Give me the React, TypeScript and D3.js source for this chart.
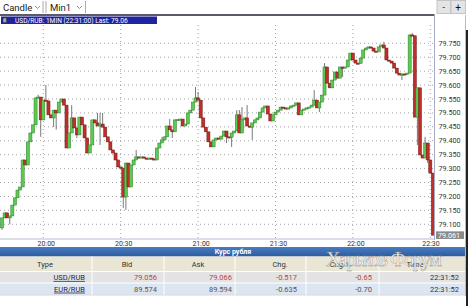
import React from "react";
import * as d3 from "d3";

// ---- DATA ----
const symbol = "USD/RUB";
const titleText = "USD/RUB: 1MIN (22:31:00) Last: 79.06";
const lastPrice = 79.061;
const startMinute = "19:44"; // first candle
const firstOpen = 79.087;
const closes = [
  79.123, 79.141, 79.123, 79.13, 79.169, 79.195, 79.223, 79.234, 79.331, 79.313,
  79.396, 79.428, 79.457, 79.554, 79.557, 79.475, 79.546, 79.543, 79.493, 79.482,
  79.51, 79.5, 79.539, 79.55, 79.528, 79.374, 79.428, 79.482, 79.446, 79.421,
  79.485, 79.457, 79.41, 79.356, 79.385, 79.475, 79.464, 79.453, 79.46, 79.449,
  79.414, 79.396, 79.367, 79.356, 79.331, 79.306, 79.302, 79.198, 79.32, 79.234,
  79.313, 79.331, 79.342, 79.338, 79.342, 79.338, 79.335, 79.338, 79.335, 79.331,
  79.374, 79.392, 79.403, 79.414, 79.453, 79.439, 79.432, 79.475, 79.476, 79.478,
  79.453, 79.46, 79.5, 79.51, 79.539, 79.554, 79.546, 79.482, 79.449, 79.432,
  79.396, 79.378, 79.403, 79.41, 79.406, 79.417, 79.435, 79.414, 79.413, 79.428,
  79.435, 79.493, 79.428, 79.475, 79.482, 79.453, 79.449, 79.464, 79.475, 79.482,
  79.503, 79.518, 79.525, 79.496, 79.471, 79.493, 79.503, 79.51, 79.521, 79.518,
  79.514, 79.518, 79.525, 79.528, 79.536, 79.493, 79.51, 79.514, 79.518, 79.521,
  79.528, 79.546, 79.518, 79.539, 79.564, 79.665, 79.607, 79.59, 79.618, 79.647,
  79.625, 79.665, 79.661, 79.665, 79.69, 79.715, 79.69, 79.679, 79.678, 79.697,
  79.726, 79.733, 79.737, 79.733, 79.722, 79.719, 79.737, 79.744, 79.733, 79.69,
  79.686, 79.679, 79.661, 79.643, 79.636, 79.64, 79.639, 79.643, 79.78, 79.777,
  79.485, 79.59, 79.349, 79.338, 79.392, 79.331, 79.284, 79.061,
];
// [candle index, high]
const wickHighs: [number, number][] = [
  [14, 79.565], [17, 79.6], [27, 79.528], [37, 79.5], [38, 79.5], [39, 79.5],
  [52, 79.367], [62, 79.414], [65, 79.478], [75, 79.593], [76, 79.575],
  [91, 79.51], [92, 79.51], [93, 79.521], [95, 79.528], [121, 79.582],
  [125, 79.679], [148, 79.755], [159, 79.787], [164, 79.414],
];
// [candle index, low]
const wickLows: [number, number][] = [
  [0, 79.08], [3, 79.1], [15, 79.414], [20, 79.449], [21, 79.44], [29, 79.41],
  [38, 79.385], [47, 79.159], [48, 79.152], [66, 79.41], [87, 79.392],
  [89, 79.378], [97, 79.403], [123, 79.503], [132, 79.629], [155, 79.618],
  [161, 79.385], [165, 79.32],
];
const yTickLabels = [
  "79.100", "79.150", "79.200", "79.250", "79.300", "79.350", "79.400",
  "79.450", "79.500", "79.550", "79.600", "79.650", "79.700", "79.750",
];
const tableTitle = "Курс рубля";
const tableHeaders = ["Type", "Bid", "Ask", "Chg.", "Chg.%", "Time"];
const rowTypes = ["USD/RUB", "EUR/RUB"];
const rowBid = ["79.056", "89.574"];
const rowAsk = ["79.066", "89.594"];
const rowChg = ["-0.517", "-0.635"];
const rowChgPct = ["-0.65", "-0.70"];
const rowTime = ["22:31:52", "22:31:52"];

// ---- LAYOUT ----
const W = 468;
const H = 306;
const plotRight = 434.5;
const plotBottom = 239;
const font = "Roboto, 'Noto Sans', sans-serif";

const day = (h: number, m: number) => new Date(2020, 0, 1, h, m);
const [sh, sm] = startMinute.split(":").map(Number);
const start = day(sh, sm);

const x = d3.scaleTime().domain([day(20, 0), day(22, 30)]).range([43.3, 430.3]);
const y = d3.scaleLinear().domain([79.1, 79.75]).range([224.3, 43.3]);

const highMap = new Map(wickHighs);
const lowMap = new Map(wickLows);
const candles = closes.map((c, i) => {
  const o = i === 0 ? firstOpen : closes[i - 1];
  const t = d3.timeMinute.offset(start, i);
  const hi = Math.max(o, c, highMap.get(i) ?? -Infinity);
  const lo = Math.min(o, c, lowMap.get(i) ?? Infinity);
  return { t, o, c, hi, lo };
});

const xTicks = x.ticks(d3.timeMinute.every(30) as any);
const fmt = d3.timeFormat("%H:%M");

const colSeps = [92, 164, 235, 306, 379];
const headerX = [45, 127, 198, 280, 340, 415];
const cellRight = [85, 157, 232, 297, 372, 459];

export default function App() {
  const bw = 3.1;
  return (
    <svg
      width={W}
      height={H}
      style={{ position: "absolute", left: 0, top: 0, background: "#fff" }}
      fontFamily={font}
    >
      <defs>
        <linearGradient id="blueBar" x1="0" y1="0" x2="0" y2="1">
          <stop offset="0" stopColor="#4a7cc2" />
          <stop offset="1" stopColor="#2c5b9f" />
        </linearGradient>
      </defs>
      <rect x={0} y={0} width={W} height={H} fill="#fff" />

      {/* toolbar */}
      <text x={3} y={11} fontSize={9.5} fill="#222">Candle</text>
      <polyline points="35,6 37.5,8.5 40,6" fill="none" stroke="#777" strokeWidth={0.8} />
      <line x1={43} x2={43} y1={1} y2={13} stroke="#aaa" />
      <line x1={46} x2={46} y1={1} y2={13} stroke="#aaa" />
      <text x={50} y={11} fontSize={9.5} fill="#222">Min1</text>
      <polyline points="77,6 79.5,8.5 82,6" fill="none" stroke="#777" strokeWidth={0.8} />
      <line x1={85.5} x2={85.5} y1={1} y2={13} stroke="#aaa" />
      <rect x={437} y={0.5} width={13.5} height={13} fill="#e4e4e4" stroke="#c4c4c4" />
      <rect x={451} y={0.5} width={14.5} height={13} fill="#e4e4e4" stroke="#c4c4c4" />
      <text x={443.7} y={10} fontSize={9} textAnchor="middle" fill="#111">-</text>
      <text x={458.2} y={10.5} fontSize={10} textAnchor="middle" fill="#111">+</text>
      <line x1={0} x2={plotRight} y1={15} y2={15} stroke="#23233a" strokeWidth={1.5} />

      {/* grid */}
      {yTickLabels.map((l) => (
        <line key={"gy" + l} x1={0} x2={plotRight} y1={y(+l)} y2={y(+l)}
          stroke="#8c8c8c" strokeWidth={0.8} strokeDasharray="1,3" />
      ))}
      {xTicks.map((t) => (
        <line key={"gx" + t.getTime()} x1={x(t)} x2={x(t)} y1={25} y2={plotBottom}
          stroke="#8c8c8c" strokeWidth={0.8} strokeDasharray="1,3" />
      ))}

      {/* candles */}
      {candles.map((d, i) => {
        const cx = x(d.t);
        const up = d.c >= d.o;
        const top = y(Math.max(d.o, d.c));
        const bot = y(Math.min(d.o, d.c));
        return (
          <g key={i}>
            <line x1={cx} x2={cx} y1={y(d.hi)} y2={y(d.lo)} stroke="#6a6a6a" strokeWidth={0.9} />
            <rect x={cx - bw / 2} y={top} width={bw} height={Math.max(1.2, bot - top)}
              fill={up ? "#5acb52" : "#bf2f2a"} stroke={up ? "#2f7d2a" : "#6e1c18"} strokeWidth={0.5} />
          </g>
        );
      })}

      {/* title bar */}
      <rect x={1} y={16.5} width={156} height={7.5} fill="#1f23a0" />
      <rect x={3} y={18} width={3.5} height={4.5} fill="#aaa" stroke="#333" strokeWidth={0.5} />
      <text x={15} y={22.6} fontSize={6.6} fill="#fff">{titleText}</text>

      {/* right axis */}
      <line x1={plotRight} x2={plotRight} y1={15} y2={plotBottom + 1} stroke="#a6a8c8" />
      <line x1={465.5} x2={465.5} y1={15} y2={296} stroke="#bbb" />
      <rect x={466} y={30} width={2} height={276} fill="#222" />
      {yTickLabels.map((l) => (
        <text key={"yl" + l} x={438.5} y={y(+l)} dy="0.35em" fontSize={7.2} fill="#333">{l}</text>
      ))}
      <rect x={436} y={y(lastPrice) - 3.8} width={28} height={7.6} fill="#8a8a8a" />
      <text x={438} y={y(lastPrice)} dy="0.35em" fontSize={7.2} fill="#fff">{lastPrice.toFixed(3)}</text>

      {/* x axis */}
      <line x1={0} x2={plotRight} y1={plotBottom} y2={plotBottom} stroke="#b8bcd0" />
      {xTicks.map((t) => (
        <text key={"xl" + t.getTime()} x={Math.min(x(t) + 3, 431)} y={244} dy="0.35em"
          fontSize={7} textAnchor="middle" fill="#333">{fmt(t)}</text>
      ))}

      {/* table */}
      <rect x={0} y={247} width={465} height={9.5} fill="url(#blueBar)" />
      <text x={233} y={252} dy="0.35em" fontSize={7} fontWeight="bold" textAnchor="middle" fill="#fff">{tableTitle}</text>
      <rect x={0} y={256.5} width={465} height={15} fill="#e9e6d6" />
      <rect x={0} y={271.5} width={465} height={11.5} fill="#e3e3e3" />
      <rect x={0} y={283} width={465} height={12} fill="#dce6f3" />
      <line x1={0} x2={465} y1={271.5} y2={271.5} stroke="#fff" />
      <line x1={0} x2={465} y1={283} y2={283} stroke="#fff" />
      <line x1={0} x2={465} y1={295} y2={295} stroke="#d8d8d8" />
      {colSeps.map((cx) => (
        <line key={"cs" + cx} x1={cx} x2={cx} y1={256.5} y2={295} stroke="#fff" strokeWidth={1} />
      ))}
      {tableHeaders.map((h, i) => (
        <text key={h} x={headerX[i]} y={264.5} dy="0.35em" fontSize={7.5} textAnchor="middle" fill="#333">{h}</text>
      ))}
      {rowTypes.map((r, ri) => {
        const cy = ri === 0 ? 277.3 : 289;
        const valColor = ri === 0 ? "#c0404a" : "#555";
        const vals = [rowBid[ri], rowAsk[ri], rowChg[ri], rowChgPct[ri]];
        return (
          <g key={r}>
            <text x={cellRight[0]} y={cy} dy="0.35em" fontSize={7.5} textAnchor="end" fill="#252545"
              textDecoration="underline">{r}</text>
            {vals.map((v, k) => (
              <text key={k} x={cellRight[k + 1]} y={cy} dy="0.35em" fontSize={7.5} textAnchor="end"
                fill={k < 2 || ri === 0 ? valColor : "#555"}>{v}</text>
            ))}
            <text x={cellRight[5]} y={cy} dy="0.35em" fontSize={7.5} textAnchor="end" fill="#333">{rowTime[ri]}</text>
          </g>
        );
      })}

      {/* watermark */}
      <text x={326} y={266} fontSize={20} fontFamily="'Liberation Serif', 'DejaVu Serif', serif"
        fill="#fff" fillOpacity={0.88} stroke="#8a8a8a" strokeWidth={0.4} textLength={116}>
        Харьков Форум
      </text>
    </svg>
  );
}
